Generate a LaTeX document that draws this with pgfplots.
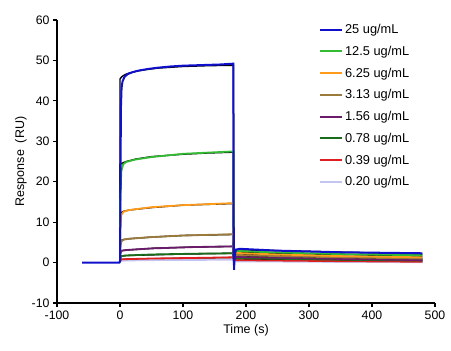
\documentclass[border=0pt]{standalone}
\usepackage{fontspec}
\setmainfont{Liberation Sans}
\usepackage{pgfplots}
\pgfplotsset{compat=1.18}
\definecolor{c25}{HTML}{1010CC}
\definecolor{c125}{HTML}{33BB33}
\definecolor{c625}{HTML}{FF9A1A}
\definecolor{c313}{HTML}{9A7B3C}
\definecolor{c156}{HTML}{6A1B6A}
\definecolor{c078}{HTML}{1A6B1A}
\definecolor{c039}{HTML}{E02020}
\definecolor{c020}{HTML}{C4C4F0}
\begin{document}
\begin{tikzpicture}
\begin{axis}[
  scale only axis, width=378pt, height=283pt,
  xmin=-100, xmax=500, ymin=-10, ymax=60,
  xtick={-100,0,...,500}, ytick={-10,0,...,60},
  axis x line*=bottom, axis y line*=left,
  axis line style={line width=1.2pt, -},
  tick style={line width=1.2pt, black},
  tick align=outside, major tick length=4pt,
  minor tick num=0,
  /pgf/number format/assume math mode=true,
  tick label style={font=\fontsize{12.3}{14}\selectfont},
  xlabel={Time (s)}, ylabel={Response\ \ (RU)},
  label style={font=\fontsize{12.5}{15}\selectfont},
  xlabel style={yshift=2pt},
  ylabel style={yshift=-2pt},
  legend style={at={(0.685,1.0)}, anchor=north west, draw=none, fill=none,
    font=\fontsize{12.8}{15}\selectfont, row sep=7.0pt,
    /tikz/every even column/.append style={column sep=0pt}},
  legend cell align=left,
  legend image code/.code={\draw[#1, line width=1.8pt] (0pt,0pt) -- (17pt,0pt); \path (0pt,0pt) -- (22pt,0pt);},
  clip=false,
]
\addplot[c25, line width=2pt] coordinates {(-100,-100)}; \addlegendentry{25 ug/mL}
\addplot[c125, line width=2pt] coordinates {(-100,-100)}; \addlegendentry{12.5 ug/mL}
\addplot[c625, line width=2pt] coordinates {(-100,-100)}; \addlegendentry{6.25 ug/mL}
\addplot[c313, line width=2pt] coordinates {(-100,-100)}; \addlegendentry{3.13 ug/mL}
\addplot[c156, line width=2pt] coordinates {(-100,-100)}; \addlegendentry{1.56 ug/mL}
\addplot[c078, line width=2pt] coordinates {(-100,-100)}; \addlegendentry{0.78 ug/mL}
\addplot[c039, line width=2pt] coordinates {(-100,-100)}; \addlegendentry{0.39 ug/mL}
\addplot[c020, line width=2pt] coordinates {(-100,-100)}; \addlegendentry{0.20 ug/mL}

% black fits (drawn beneath the traces)
\addplot[black, line width=1.4pt, forget plot] coordinates {(0,0.2)(0,0.7)(10,0.85)(180,1.25)(180,0.5)(480,0.15)};
\addplot[black, line width=1.4pt, forget plot] coordinates {(0,0.2)(0,1.6)(10,1.75)(100,2.1)(180,2.3)(180,0.9)(480,0.4)};
\addplot[black, line width=1.4pt, forget plot] coordinates {(0,0.2)(0,2.9)(10,3.1)(60,3.6)(120,3.85)(180,4.0)(180,1.2)(480,0.5)};
\addplot[black, line width=1.4pt, forget plot] coordinates {(0,0.2)(0,5.4)(6,5.7)(15,5.9)(50,6.3)(100,6.7)(180,6.95)(180,1.6)(480,0.8)};
\addplot[black, line width=1.4pt, forget plot] coordinates {(0,0.2)(0,12.2)(6,12.7)(15,13.0)(50,13.6)(100,14.2)(180,14.6)(180,2.0)(480,1.1)};
\addplot[black, line width=1.4pt, forget plot] coordinates {(0,0.2)(0,24.3)(5,24.7)(10,25.0)(25,25.6)(50,26.2)(100,26.8)(140,27.1)(180,27.3)(180,2.5)(480,1.6)};
\addplot[black, line width=1.4pt, forget plot] coordinates {(0,0.2)(0,45.4)(3,46.0)(8,46.5)(15,46.9)(25,47.3)(40,47.7)(60,48.1)(100,48.5)(140,48.7)(180,48.8)(180,3.2)(480,2.1)};
% data traces
\addplot[c020, line width=1.8pt, forget plot] coordinates {(0,0)(0.5,0.3)(2,0.45)(10,0.5)(40,0.6)(100,0.65)(180,0.7)(180.5,0.3)(250,0.25)(350,0.15)(480,0.1)};
\addplot[c039, line width=1.8pt, forget plot] coordinates {(0,0)(0.5,0.5)(2,0.8)(10,0.85)(50,1.0)(120,1.15)(180,1.3)(180.5,0.6)(250,0.5)(350,0.35)(480,0.2)};
\addplot[c078, line width=1.8pt, forget plot] coordinates {(0,0)(0.5,1.0)(2,1.6)(10,1.75)(50,2.0)(120,2.2)(180,2.3)(180.5,1.1)(250,0.95)(350,0.7)(480,0.5)};
\addplot[c156, line width=1.8pt, forget plot] coordinates {(0,0)(0.5,2.0)(2,2.9)(10,3.1)(50,3.5)(120,3.85)(180,4.0)(180.5,1.4)(250,1.2)(350,0.9)(480,0.6)};
\addplot[c313, line width=1.8pt, forget plot] coordinates {(0,0)(0.5,3.5)(2,5.2)(6,5.7)(15,5.9)(50,6.3)(100,6.7)(180,7.0)(180.5,1.9)(250,1.6)(350,1.3)(480,1.0)};
\addplot[c625, line width=1.8pt, forget plot] coordinates {(0,0)(0.5,8)(2,11.8)(6,12.6)(15,13.0)(50,13.7)(100,14.2)(180,14.7)(180.5,2.4)(250,2.0)(350,1.6)(480,1.3)};
\addplot[c125, line width=1.8pt, forget plot] coordinates {(0,0)(0.5,15)(2,22.5)(5,24.3)(10,24.9)(25,25.5)(50,26.1)(100,26.9)(140,27.2)(180,27.5)(180.5,2.9)(250,2.5)(350,2.1)(480,1.8)};
% 25 ug/mL trace on top
\addplot[c25, line width=2pt, forget plot] coordinates {(-60,0)(-1,0)(0,0.4)(0.7,15)(1.4,38)(2.5,43.2)(4,44.8)(7,45.9)(12,46.6)(20,47.1)(30,47.5)(45,47.9)(60,48.2)(80,48.5)(100,48.7)(130,48.85)(160,49.0)(180,49.2)(180.5,10)(181,-1.8)(182,1.5)(184,3.2)(190,3.4)(250,2.95)(350,2.55)(480,2.3)};
\end{axis}
\pgfresetboundingbox
\path ([xshift=-57pt,yshift=-47pt]current axis.south west) rectangle ([xshift=16pt,yshift=20pt]current axis.north east);
\end{tikzpicture}
\end{document}
